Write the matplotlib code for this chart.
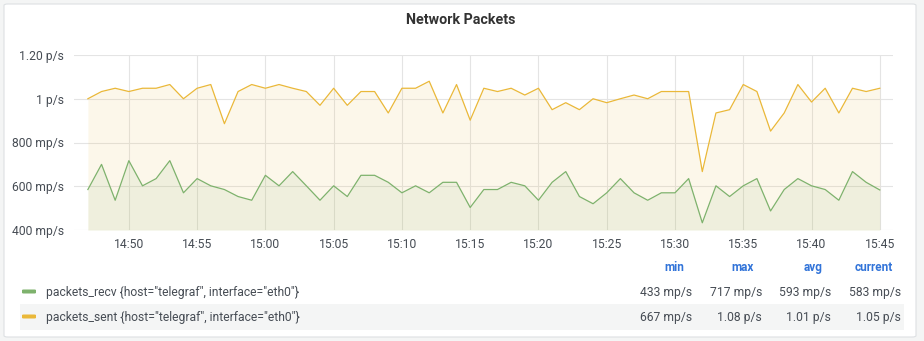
import matplotlib.pyplot as plt
import matplotlib.dates as mdates
import pandas as pd
from matplotlib.patches import FancyBboxPatch, Rectangle

plt.rcParams["font.family"] = ["Roboto", "DejaVu Sans"]

# one sample per minute, 14:47 .. 15:45
times = pd.date_range("2024-01-01 14:47", "2024-01-01 15:45", freq="1min")

# values in mp/s
packets_recv = [
    585, 700, 536, 717, 602, 635, 717, 570, 635, 602,
    585, 553, 536, 650, 602, 667, 602, 536, 602, 553,
    650, 650, 618, 570, 602, 570, 618, 618, 503, 585,
    585, 618, 602, 536, 618, 667, 553, 520, 570, 635,
    570, 536, 570, 570, 635, 433, 602, 553, 602, 635,
    487, 585, 635, 602, 585, 536, 667, 618, 583,
]
packets_sent = [
    1000, 1033, 1048, 1033, 1048, 1048, 1065, 1000, 1048, 1065,
    886, 1033, 1065, 1048, 1065, 1048, 1033, 970, 1048, 970,
    1033, 1033, 935, 1048, 1048, 1080, 935, 1065, 902, 1048,
    1033, 1048, 1017, 1048, 950, 982, 950, 1000, 982, 1000,
    1017, 1000, 1033, 1033, 1033, 667, 935, 950, 1065, 1033,
    852, 935, 1065, 985, 1048, 935, 1048, 1033, 1048,
]

series_names = [
    'packets_recv {host="telegraf", interface="eth0"}',
    'packets_sent {host="telegraf", interface="eth0"}',
]
series_colors = ["#7eb26d", "#eab839"]

ytick_vals = [400, 600, 800, 1000, 1200]
ytick_labels = ["400 mp/s", "600 mp/s", "800 mp/s", "1 p/s", "1.20 p/s"]

stat_headers = ["min", "max", "avg", "current"]
stats_recv = ["433 mp/s", "717 mp/s", "593 mp/s", "583 mp/s"]
stats_sent = ["667 mp/s", "1.08 p/s", "1.01 p/s", "1.05 p/s"]

TEXT = "#464c54"
GRID = "#e4e4e4"
W, H = 924, 341

fig = plt.figure(figsize=(9.24, 3.41), dpi=100)
fig.patch.set_facecolor("#f4f5f5")

# white panel
panel = FancyBboxPatch((4 / W, 4 / H), 912 / W, 333 / H,
                       boxstyle="round,pad=0,rounding_size=0.004",
                       transform=fig.transFigure, facecolor="white",
                       edgecolor="#dde0e3", linewidth=0.8, zorder=-10)
fig.patches.append(panel)

fig.text(461 / W, 1 - 20 / H, "Network Packets", ha="center", va="center",
         fontsize=10.3, fontweight="bold", color="#333333")

ax = fig.add_axes([74 / W, 1 - 230 / H, (893 - 74) / W, 175 / H])
ax.set_facecolor("none")

for vals, color in zip([packets_sent, packets_recv], [series_colors[1], series_colors[0]]):
    ax.fill_between(times, vals, 400, color=color, alpha=0.1, linewidth=0)
    ax.plot(times, vals, color=color, linewidth=0.9)

ax.set_ylim(400, 1200)
ax.set_yticks(ytick_vals)
ax.set_yticklabels(ytick_labels)
ax.set_xlim(pd.Timestamp("2024-01-01 14:45:59"), pd.Timestamp("2024-01-01 15:45:58"))
ax.xaxis.set_major_locator(mdates.MinuteLocator(byminute=range(0, 60, 5)))
ax.xaxis.set_major_formatter(mdates.DateFormatter("%H:%M"))

ax.grid(True, color=GRID, linewidth=0.8)
ax.set_axisbelow(True)
for s in ax.spines.values():
    s.set_visible(False)
ax.tick_params(length=0, labelsize=8.7, colors=TEXT)
ax.tick_params(axis="y", pad=7)
ax.tick_params(axis="x", pad=6)

# legend table
fig.patches.append(Rectangle((20 / W, 1 - 330 / H), 884 / W, 26 / H,
                             transform=fig.transFigure, facecolor="#f4f5f5",
                             edgecolor="none", zorder=1))
col_right = [692, 762, 831, 901]
for x, h in zip(col_right, stat_headers):
    fig.text((x - 8) / W, 1 - 271 / H, h, ha="right", va="baseline",
             fontsize=8.5, color="#3274d9", fontweight="bold")

rows_y = [292, 317]
for y, name, color, stats in zip(rows_y, series_names, series_colors, [stats_recv, stats_sent]):
    fig.patches.append(FancyBboxPatch((22 / W, 1 - (y + 1.5) / H), 14 / W, 4 / H,
                                      boxstyle="round,pad=0,rounding_size=0.002",
                                      transform=fig.transFigure, facecolor=color,
                                      edgecolor="none", zorder=2))
    fig.text(46 / W, 1 - (y + 4) / H, name, ha="left", va="baseline",
             fontsize=8.7, color=TEXT, zorder=3)
    for x, s in zip(col_right, stats):
        fig.text(x / W, 1 - (y + 4) / H, s, ha="right", va="baseline",
                 fontsize=8.7, color=TEXT, zorder=3)

fig.savefig("out.png", dpi=100, facecolor=fig.get_facecolor())
